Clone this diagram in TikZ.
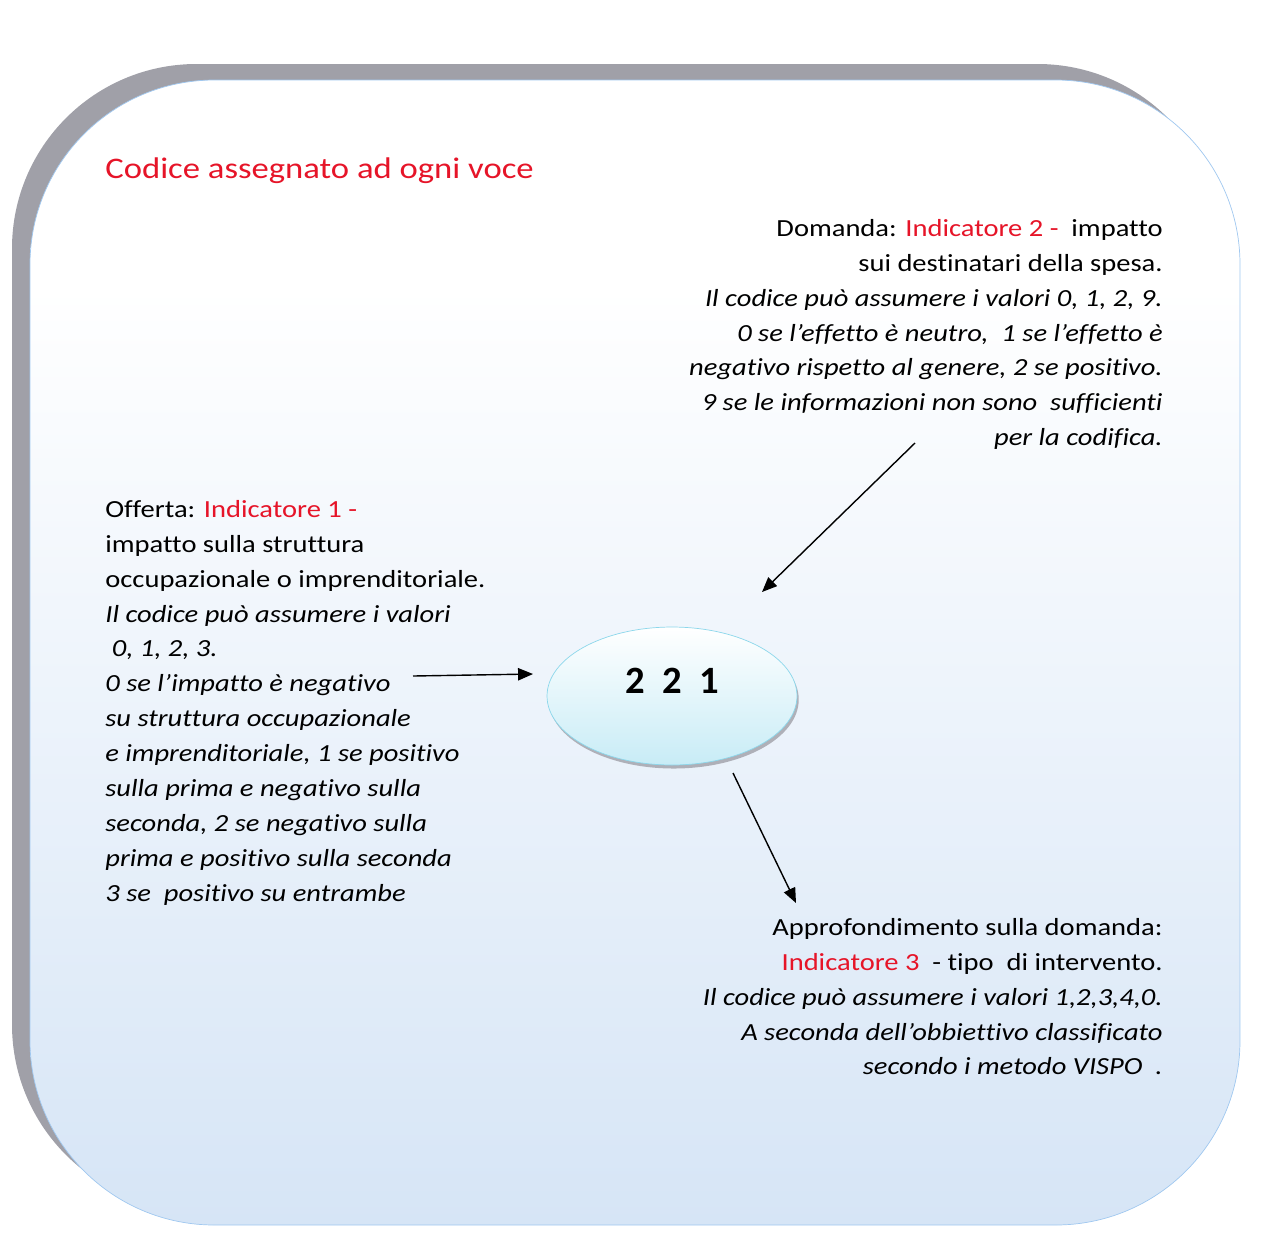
\documentclass[tikz,border=0pt]{standalone}
\usepackage{fontspec}
\setmainfont{Carlito}
\newfontfamily\bodyfont{Carlito}[FakeStretch=1.16, Ligatures=NoCommon]
\usetikzlibrary{arrows.meta,shapes.geometric,shadows}

\definecolor{indred}{RGB}{230,20,40}
\definecolor{boxblue}{RGB}{214,229,246}
\definecolor{boxline}{RGB}{160,200,240}
\definecolor{shadowgray}{RGB}{160,160,168}
\definecolor{ellcyan}{RGB}{200,236,246}
\definecolor{ellline}{RGB}{140,215,235}

\pgfdeclareverticalshading{boxshade}{100bp}{color(0bp)=(boxblue); color(25bp)=(boxblue); color(66bp)=(white); color(100bp)=(white)}

\tikzset{
  txt/.style={inner sep=0pt, font=\bodyfont\fontsize{14}{19.85}\selectfont},
  arr/.style={-{Triangle[length=8.5pt,width=7pt]}, line width=0.8pt},
}

\begin{document}
\begin{tikzpicture}[x=0.02cm, y=-0.02cm]

    \useasboundingbox (0,0) rectangle (1261,1232);

    % Box with its shadow
    \fill[shadowgray, rounded corners=105pt] (12,64) rectangle (1222,1209);
    \draw[boxline, shading=boxshade, rounded corners=105pt] (30,80) rectangle (1240,1225);

    % Title
    \node[txt, anchor=base west, font=\bodyfont\fontsize{17}{21}\selectfont, text=indred] (title) at (105,178) {Codice assegnato ad ogni voce};

    % The code
    \node[ellipse, minimum width=5cm, minimum height=2.76cm, inner sep=0pt, draw=ellline, top color=white, bottom color=ellcyan,
          drop shadow={shadow xshift=1pt, shadow yshift=-2pt, fill=shadowgray, opacity=0.8}] (code) at (672,696) {};
    \node[font=\fontsize{22}{26}\selectfont\bfseries] (codetxt) at (672,681) {2\ \ 2\ \ 1};

    % Indicatore 2
    \node[txt, align=right, anchor=north east] (dom) at (1163,219) {%
      Domanda: \textcolor{indred}{Indicatore 2 -}\ \ impatto\\
      sui destinatari della spesa.\\
      \textit{Il codice può assumere i valori 0, 1, 2, 9.}\\
      \textit{0 se l’effetto è neutro,\ \ 1 se l’effetto è}\\
      \textit{negativo rispetto al genere, 2 se positivo.}\\
      \textit{9 se le informazioni non sono\ \ sufficienti}\\
      \textit{per la codifica.}};

    % Indicatore 1
    \node[txt, align=left, anchor=north west] (off) at (105,500) {%
      Offerta: \textcolor{indred}{Indicatore 1 -}\\
      impatto sulla struttura\\
      occupazionale o imprenditoriale.\\
      \textit{Il codice può assumere i valori}\\
      \textit{\ 0, 1, 2, 3.}\\
      \textit{0 se l’impatto è negativo}\\
      \textit{su struttura occupazionale}\\
      \textit{e imprenditoriale, 1 se positivo}\\
      \textit{sulla prima e negativo sulla}\\
      \textit{seconda, 2 se negativo sulla}\\
      \textit{prima e positivo sulla seconda}\\
      \textit{3 se\ \ positivo su entrambe}};

    % Indicatore 3
    \node[txt, align=right, anchor=north east] (appr) at (1163,918) {%
      Approfondimento sulla domanda:\\
      \textcolor{indred}{Indicatore 3}\ \ - tipo\ \ di intervento.\\
      \textit{Il codice può assumere i valori 1,2,3,4,0.}\\
      \textit{A seconda dell’obbiettivo classificato}\\
      \textit{secondo i metodo VISPO\ \ .}};

    % Arrows
    \coordinate (domtip) at (915,443);
    \coordinate (domend) at (762,592);
    \coordinate (offtip) at (413,676);
    \coordinate (offend) at (533,674);
    \coordinate (apprtip) at (733,773);
    \coordinate (apprend) at (796,903);
    \draw[arr] (domtip) -- (domend);
    \draw[arr] (offtip) -- (offend);
    \draw[arr] (apprtip) -- (apprend);

\end{tikzpicture}
\end{document}
